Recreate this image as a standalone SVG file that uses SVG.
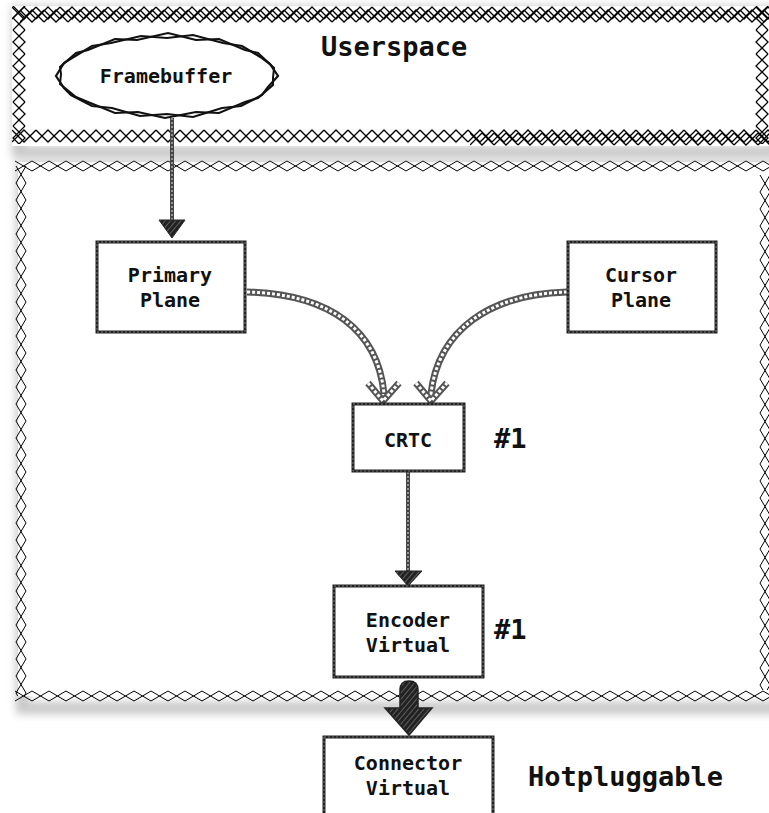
<svg xmlns="http://www.w3.org/2000/svg" width="769" height="813" viewBox="0 0 769 813">
<style>
.lbl{font-family:"DejaVu Sans Mono",monospace;font-weight:bold;font-size:20px;text-anchor:middle;fill:#111}
.big{font-family:"DejaVu Sans Mono",monospace;font-weight:bold;font-size:27px;fill:#111}
.num{font-family:"DejaVu Sans Mono",monospace;font-weight:bold;font-size:27px;fill:#111}
.box{fill:#fff;stroke:#222;stroke-width:3}
.boxin{fill:none;stroke:#777;stroke-width:1;stroke-dasharray:2 2}
.wire{fill:none;stroke:#555;stroke-width:7}
.wirein{fill:none;stroke:#fff;stroke-width:3;stroke-dasharray:3 2}
.vwire{fill:none;stroke:#444;stroke-width:4}
.vwirein{fill:none;stroke:#aaa;stroke-width:1.5;stroke-dasharray:2 2}
.shadow{fill:none;stroke:#999;stroke-width:12;opacity:.55}
</style>
<defs>
<pattern id="zzH" width="24" height="14" patternUnits="userSpaceOnUse"><path d="M0,1 L12,13 L24,1 M0,13 L12,1 L24,13" stroke="#000" stroke-width="1.3" fill="none"/></pattern>
<pattern id="zzV" width="14" height="24" patternUnits="userSpaceOnUse"><path d="M1,0 L13,12 L1,24 M13,0 L1,12 L13,24" stroke="#000" stroke-width="1.3" fill="none"/></pattern>
<pattern id="thH" width="34" height="12" patternUnits="userSpaceOnUse"><path d="M0,1 L17,11 L34,1 M0,11 L17,1 L34,11" stroke="#000" stroke-width="1" fill="none"/></pattern>
<pattern id="thV" width="12" height="34" patternUnits="userSpaceOnUse"><path d="M1,0 L11,17 L1,34 M11,0 L1,17 L11,34" stroke="#000" stroke-width="1" fill="none"/></pattern>
<pattern id="hatch" width="4" height="4" patternUnits="userSpaceOnUse" patternTransform="rotate(40)"><rect width="4" height="4" fill="#222"/><line x1="0" y1="0" x2="0" y2="4" stroke="#999" stroke-width="1"/></pattern>
<filter id="blur" x="-10%" y="-10%" width="120%" height="120%"><feGaussianBlur stdDeviation="4"/></filter>
</defs>
<rect width="769" height="813" fill="#fff"/>

<g id="kernel-frame">
<rect class="shadow" x="22" y="168" width="760" height="540" filter="url(#blur)"/>
<rect x="18" y="162" width="760" height="534" fill="#fff"/>
<rect transform="translate(15,160)" width="754" height="12" fill="url(#thH)"/>
<rect transform="translate(15,690)" width="754" height="12" fill="url(#thH)"/>
<rect transform="translate(15,166)" width="12" height="530" fill="url(#thV)"/>
<rect transform="translate(759,175)" width="10" height="515" fill="url(#thV)"/>
</g>

<g id="userspace-frame">
<rect class="shadow" x="18" y="12" width="760" height="140" filter="url(#blur)"/>
<rect x="12" y="6" width="757" height="140" fill="#fff"/>
<rect transform="translate(12,6)" width="757" height="14" fill="url(#zzH)"/>
<rect transform="translate(20,9)" width="749" height="14" fill="url(#zzH)"/>
<rect transform="translate(12,129)" width="757" height="14" fill="url(#zzH)"/>
<rect transform="translate(470,132)" width="299" height="14" fill="url(#zzH)"/>
<rect transform="translate(12,6)" width="14" height="138" fill="url(#zzV)"/>
<rect transform="translate(755,6)" width="14" height="138" fill="url(#zzV)"/>
<text class="big" x="321" y="56">Userspace</text>
</g>

<g id="connectors">
<path class="vwire" d="M172,118 L172,224"/>
<path class="vwirein" d="M172,118 L172,224"/>
<polygon points="159,220 185,220 172,238" fill="url(#hatch)" stroke="#222" stroke-width="1"/>
<path class="wire" d="M247,292 C330,294 378,330 384,394"/>
<path class="wirein" d="M247,292 C330,294 378,330 384,394"/>
<path class="wire" d="M368,383 L383,401 L399,383"/>
<path class="wirein" d="M368,383 L383,401 L399,383"/>
<path class="wire" d="M567,292 C490,294 438,330 431,394"/>
<path class="wirein" d="M567,292 C490,294 438,330 431,394"/>
<path class="wire" d="M416,383 L431,401 L447,383"/>
<path class="wirein" d="M416,383 L431,401 L447,383"/>
<path class="vwire" d="M408,472 L408,574"/>
<path class="vwirein" d="M408,472 L408,574"/>
<polygon points="395,571 422,571 408,586" fill="url(#hatch)" stroke="#222" stroke-width="1"/>
<path d="M400,690 Q400,681 409,681 Q418,681 418,690 L418,708 L432,708 L409,735 L385,708 L400,708 Z" fill="url(#hatch)" stroke="#222" stroke-width="1.5"/>
</g>

<g id="framebuffer">
<ellipse cx="167" cy="76" rx="106" ry="39" fill="#fff"/>
<polygon points="278,76 268,87 262,95 241,106 222,108 193,117 167,114 140,116 112,108 92,106 71,95 64,88 56,76 64,63 72,58 92,46 111,43 141,36 167,38 193,35 223,43 242,46 262,58 270,64" fill="none" stroke="#111" stroke-width="2.2"/>
<polygon points="273,78 273,85 258,98 245,102 219,113 196,112 165,118 138,112 115,113 88,102 76,97 60,84 61,74 60,67 76,53 88,50 115,39 137,40 168,33 196,40 219,39 245,50 258,53 274,68" fill="none" stroke="#111" stroke-width="2"/>
<text class="lbl" x="166" y="83">Framebuffer</text>
</g>

<g id="primary-plane">
<rect class="box" x="97" y="242" width="148" height="90"/>
<rect class="boxin" x="97" y="242" width="148" height="90"/>
<text class="lbl" x="170" y="282">Primary</text>
<text class="lbl" x="170" y="307">Plane</text>
</g>

<g id="cursor-plane">
<rect class="box" x="568" y="242" width="148" height="90"/>
<rect class="boxin" x="568" y="242" width="148" height="90"/>
<text class="lbl" x="641" y="282">Cursor</text>
<text class="lbl" x="641" y="307">Plane</text>
</g>

<g id="crtc">
<rect class="box" x="353" y="404" width="111" height="67"/>
<rect class="boxin" x="353" y="404" width="111" height="67"/>
<text class="lbl" x="408" y="447">CRTC</text>
<text class="num" x="494" y="448">#1</text>
</g>

<g id="encoder">
<rect class="box" x="334" y="586" width="149" height="91"/>
<rect class="boxin" x="334" y="586" width="149" height="91"/>
<text class="lbl" x="408" y="627">Encoder</text>
<text class="lbl" x="408" y="652">Virtual</text>
<text class="num" x="494" y="639">#1</text>
</g>

<g id="connector">
<rect class="box" x="324" y="737" width="169" height="90"/>
<rect class="boxin" x="324" y="737" width="169" height="90"/>
<text class="lbl" x="408" y="770">Connector</text>
<text class="lbl" x="408" y="795">Virtual</text>
<text class="big" x="528" y="786">Hotpluggable</text>
</g>
</svg>
